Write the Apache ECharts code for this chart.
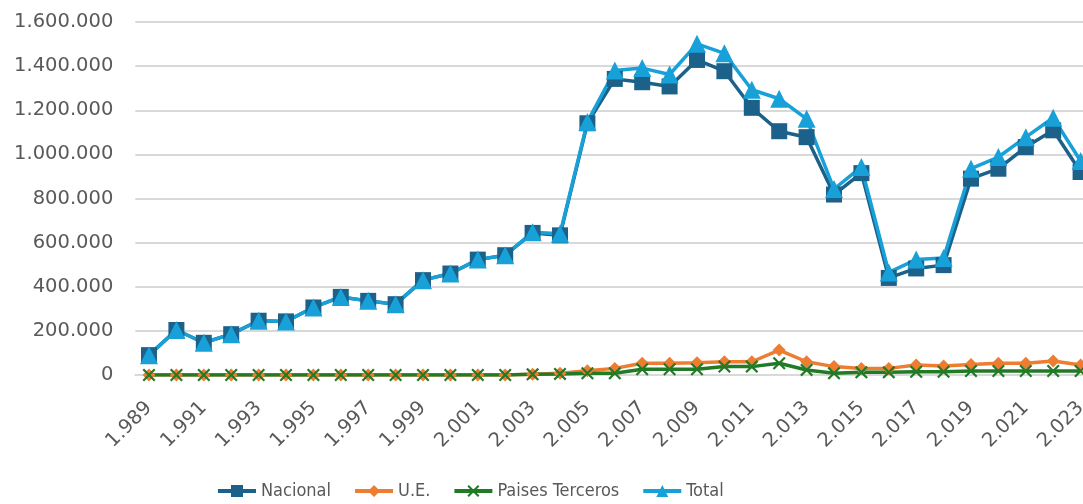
<!DOCTYPE html>
<html>
<head>
<meta charset="utf-8">
<script src="https://cdn.jsdelivr.net/npm/echarts@6/dist/echarts.min.js"></script>
<style>
  html, body { margin: 0; padding: 0; background: #fff; overflow: hidden; }
  #chart { width: 1110px; height: 504px; }
</style>
</head>
<body>
<div id="chart"></div>
<script>
// Years on the category axis
const years = [1989, 1990, 1991, 1992, 1993, 1994, 1995, 1996, 1997, 1998, 1999,
  2000, 2001, 2002, 2003, 2004, 2005, 2006, 2007, 2008, 2009, 2010, 2011, 2012,
  2013, 2014, 2015, 2016, 2017, 2018, 2019, 2020, 2021, 2022, 2023];

const nacional = [90000, 204000, 146000, 185000, 246000, 243000, 306000, 354000, 336000, 321000,
  430000, 460000, 523000, 543000, 644000, 633000, 1141000, 1342000, 1327000, 1308000,
  1428000, 1377000, 1211000, 1105000, 1078000, 818000, 915000, 440000, 483000, 498000,
  890000, 935000, 1033000, 1109000, 920000];

const ue = [0, 0, 0, 0, 0, 0, 0, 0, 0, 0,
  0, 0, 0, 0, 3000, 8000, 19000, 30000, 53000, 53000,
  56000, 60000, 60000, 113000, 60000, 38000, 30000, 30000, 45000, 41000,
  48000, 53000, 53000, 63000, 45000];

const paisesTerceros = [0, 0, 0, 0, 0, 0, 0, 0, 0, 0,
  0, 0, 0, 0, 3000, 5000, 8000, 8000, 26000, 26000,
  26000, 38000, 38000, 53000, 23000, 8000, 12000, 12000, 15000, 15000,
  18000, 18000, 18000, 18000, 18000];

const total = [90000, 204000, 146000, 185000, 246000, 243000, 306000, 354000, 336000, 321000,
  430000, 460000, 523000, 543000, 647000, 640000, 1147000, 1380000, 1391000, 1362000,
  1501000, 1458000, 1293000, 1252000, 1161000, 843000, 943000, 465000, 523000, 530000,
  935000, 988000, 1078000, 1166000, 970000];

const yTicks = { min: 0, max: 1600000, step: 200000 };

// Spanish-style thousands separator: 1600000 -> "1.600.000"
function fmtThousands(v) {
  return String(Math.round(Number(v))).replace(/\B(?=(\d{3})+(?!\d))/g, '.');
}

const xSymbol = 'path://M0,1.2 L1.2,0 L5,3.8 L8.8,0 L10,1.2 L6.2,5 L10,8.8 L8.8,10 L5,6.2 L1.2,10 L0,8.8 L3.8,5 Z';

const chart = echarts.init(document.getElementById('chart'), null, { renderer: 'canvas' });

function lineSeries(name, data, color, symbol, size) {
  return {
    name: name,
    type: 'line',
    data: data,
    symbol: symbol,
    symbolSize: size,
    showSymbol: true,
    showAllSymbol: true,
    lineStyle: { color: color, width: 3.5 },
    itemStyle: { color: color, borderWidth: 0 },
    emphasis: { disabled: true }
  };
}

chart.setOption({
  animation: false,
  backgroundColor: '#ffffff',
  grid: { left: 135.3, top: 22, width: 959, height: 353, containLabel: false },
  legend: {
    left: 216,
    top: 482,
    padding: 0,
    itemWidth: 38,
    itemHeight: 15,
    itemGap: 22,
    lineStyle: { width: 4 },
    textStyle: { color: '#595959', fontSize: 18, fontFamily: 'DejaVu Sans Condensed' },
    data: ['Nacional', 'U.E.', 'Paises Terceros', 'Total']
  },
  xAxis: {
    type: 'category',
    data: years,
    boundaryGap: true,
    axisLine: { show: true, lineStyle: { color: '#d9d9d9', width: 2 } },
    axisTick: { show: false },
    axisLabel: {
      interval: 1,
      rotate: 45,
      margin: 30,
      color: '#595959',
      fontSize: 19.5,
      fontFamily: 'DejaVu Sans',
      formatter: v => fmtThousands(v)
    },
    splitLine: { show: false }
  },
  yAxis: {
    type: 'value',
    min: yTicks.min,
    max: yTicks.max,
    interval: yTicks.step,
    axisLine: { show: false },
    axisTick: { show: false },
    axisLabel: {
      margin: 22,
      color: '#595959',
      fontSize: 19.5,
      fontFamily: 'DejaVu Sans',
      formatter: v => fmtThousands(v)
    },
    splitLine: { show: true, lineStyle: { color: '#d9d9d9', width: 2 } }
  },
  series: [
    lineSeries('Nacional', nacional, '#1b6189', 'rect', 16),
    lineSeries('U.E.', ue, '#ed7d31', 'diamond', 13),
    lineSeries('Paises Terceros', paisesTerceros, '#217a26', xSymbol, 13),
    lineSeries('Total', total, '#18a0d8', 'triangle', 18)
  ]
});
</script>
</body>
</html>
